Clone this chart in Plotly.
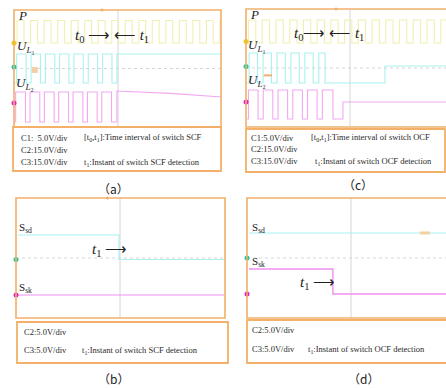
import plotly.graph_objects as go

W, H = 446, 389
SERIF = "Liberation Serif, Times New Roman, serif"
CJK = "Noto Sans CJK SC, sans-serif"

# ---------------- data (time in divisions, level in divisions) ----------------
# (a) switch SCF
A_P_RISE = [0.15, 0.80, 1.45, 2.10, 2.75, 3.40, 4.05, 4.70, 5.35, 6.00, 6.65, 7.30, 7.95, 8.60, 9.25, 9.90]
A_P_FALL = [0.48, 1.13, 1.78, 2.43, 3.08, 3.73, 4.38, 5.03, 5.68, 6.33, 6.98, 7.63, 8.28, 8.93, 9.58]
A_P_HI, A_P_LO = 7.28, 5.74
A_U1_RISE = [0.13, 0.82, 1.51, 2.19, 2.88, 3.57, 4.26, 4.95]
A_U1_FALL = [0.58, 1.27, 1.96, 2.64, 3.33, 4.02, 4.71]
A_U1_HI, A_U1_LO = 4.99, 3.01
A_U2_RISE = [0.08, 0.77, 1.46, 2.15, 2.84, 3.53, 4.22]
A_U2_FALL = [0.55, 1.24, 1.93, 2.62, 3.31, 4.00, 4.69]
A_U2_HI, A_U2_LO = 2.39, 0.34
A_U2_TAIL_T = [4.69, 4.95, 4.95, 7.50, 10.0]
A_U2_TAIL_V = [0.34, 0.34, 2.46, 2.30, 2.05]

# (c) switch OCF
C_P_RISE = [0.12, 0.78, 1.44, 2.10, 2.76, 3.42, 4.08, 4.74, 5.40, 6.06, 6.72, 7.38, 8.04, 8.70, 9.36]
C_P_FALL = [0.47, 1.13, 1.79, 2.45, 3.11, 3.77, 4.43, 5.09, 5.75, 6.41, 7.07, 7.73, 8.39, 9.05]
C_P_HI, C_P_LO = 7.25, 5.69
C_U1_RISE = [0.15, 0.82, 1.49, 2.16, 2.83, 3.50]
C_U1_FALL = [0.55, 1.22, 1.89, 2.56, 3.23, 3.80]
C_U1_HI, C_U1_LO = 5.02, 2.98
C_U1_TAIL_T = [3.80, 6.68, 6.68, 9.62]
C_U1_TAIL_V = [2.98, 2.98, 4.14, 4.14]
C_U2_RISE = [0.12, 0.83, 1.54, 2.25, 2.96, 3.67]
C_U2_FALL = [0.58, 1.29, 2.00, 2.71, 3.42, 4.18]
C_U2_HI, C_U2_LO = 2.51, 0.54
C_U2_TAIL_T = [4.18, 4.66, 4.66, 9.62]
C_U2_TAIL_V = [0.54, 0.54, 1.69, 1.69]

# (b) SCF detection signals
B_SSD_T = [0.08, 4.95, 4.95, 10.0]
B_SSD_V = [5.53, 5.53, 3.90, 3.90]
B_SSK_T = [0.08, 10.0]
B_SSK_V = [1.53, 1.53]

# (d) OCF detection signals
D_SSD_T = [0.10, 9.6]
D_SSD_V = [5.67, 5.67]
D_SSK_T = [0.10, 4.13, 4.13, 9.6]
D_SSK_V = [3.27, 3.27, 1.60, 1.60]

# channel ground markers (level in divisions)
A_MARK = [5.74, 4.10, 1.64]
C_MARK = [5.80, 4.10, 1.69]
B_MARK = [3.90, 1.53]
D_MARK = [4.00, 1.60]

# ---------------- styling ----------------
YEL, CYA, MAG = "#f0f0b0", "#aaf0f0", "#f2a8f2"
ORG = "#f2b068"
GRID = "#d6d6d6"
TXT = "#2a2a2a"


def fx(px):
    return px / W


def fy(py):
    return 1 - py / H


# panel geometry: left px, top px, bottom px
PAN = {
    "a": dict(ax="", x0=14, y0=10, y1=127),
    "c": dict(ax="2", x0=246, y0=9, y1=127),
    "b": dict(ax="3", x0=16, y0=198, y1=318),
    "d": dict(ax="4", x0=247, y0=198, y1=318),
}
PPD = 20.8

fig = go.Figure()


def square(rises, falls, hi, lo, start, end, tail_t=None, tail_v=None):
    ev = sorted([(t, hi) for t in rises] + [(t, lo) for t in falls])
    xs, ys = [start], [lo]
    for t, v in ev:
        xs += [t, t]
        ys += [ys[-1], v]
    if tail_t:
        xs += tail_t
        ys += tail_v
    else:
        xs.append(end)
        ys.append(ys[-1])
    return xs, ys


def line(p, xs, ys, color, width=1.1):
    a = PAN[p]["ax"]
    fig.add_trace(go.Scatter(x=xs, y=ys, mode="lines", line=dict(color=color, width=width),
                             xaxis="x" + a, yaxis="y" + a, hoverinfo="skip", showlegend=False))


def marks(p, levels, colors):
    a = PAN[p]["ax"]
    fig.add_trace(go.Scatter(x=[0] * len(levels), y=levels, mode="markers",
                             marker=dict(color=colors, size=5), cliponaxis=False,
                             xaxis="x" + a, yaxis="y" + a, hoverinfo="skip", showlegend=False))


# (a)
line("a", *square(A_P_RISE, A_P_FALL, A_P_HI, A_P_LO, 0.05, 10.0), YEL)
line("a", *square(A_U1_RISE, A_U1_FALL, A_U1_HI, A_U1_LO, 0.05, 10.0), CYA)
line("a", *square(A_U2_RISE, A_U2_FALL, A_U2_HI, A_U2_LO, 0.05, 10.0, A_U2_TAIL_T, A_U2_TAIL_V), MAG)
marks("a", A_MARK, ["#f0cc10", "#20c8a8", "#e020c8"])
# (c)
line("c", *square(C_P_RISE, C_P_FALL, C_P_HI, C_P_LO, 0.05, 9.62), YEL)
line("c", *square(C_U1_RISE, C_U1_FALL, C_U1_HI, C_U1_LO, 0.05, 9.62, C_U1_TAIL_T, C_U1_TAIL_V), CYA)
line("c", *square(C_U2_RISE, C_U2_FALL, C_U2_HI, C_U2_LO, 0.05, 9.62, C_U2_TAIL_T, C_U2_TAIL_V), MAG)
marks("c", C_MARK, ["#f0cc10", "#20c8a8", "#e020c8"])
# (b)
line("b", B_SSD_T, B_SSD_V, CYA)
line("b", B_SSK_T, B_SSK_V, "#f090f0")
marks("b", B_MARK, ["#20c8a8", "#e020c8"])
# (d)
line("d", D_SSD_T, D_SSD_V, CYA)
line("d", D_SSK_T, D_SSK_V, "#f090f0", 1.4)
marks("d", D_MARK, ["#20c8a8", "#e020c8"])

layout = dict(width=W, height=H, margin=dict(l=0, r=0, t=0, b=0),
              paper_bgcolor="white", plot_bgcolor="white", showlegend=False)
for p, g in PAN.items():
    a = g["ax"]
    x1 = min(g["x0"] + 10 * PPD, W)
    layout["xaxis" + a] = dict(domain=[fx(g["x0"]), fx(x1)], range=[0, (x1 - g["x0"]) / PPD],
                               visible=False, fixedrange=True, anchor="y" + a)
    layout["yaxis" + a] = dict(domain=[fy(g["y1"]), fy(g["y0"])], range=[0, 8],
                               visible=False, fixedrange=True, anchor="x" + a)
fig.update_layout(**layout)

shapes = []
# centre graticule
for p, g in PAN.items():
    a = g["ax"]
    shapes.append(dict(type="line", xref="x" + a, yref="y" + a + " domain", x0=5, x1=5, y0=0, y1=1,
                       line=dict(color=GRID, width=1), layer="below"))
    shapes.append(dict(type="line", xref="x" + a + " domain", yref="y" + a, x0=0, x1=1, y0=4, y1=4,
                       line=dict(color=GRID, width=1, dash="dot"), layer="below"))


def rect(x0, y0, x1, y1, w=1.6):
    shapes.append(dict(type="rect", xref="paper", yref="paper", x0=fx(x0), x1=fx(x1),
                       y0=fy(y1), y1=fy(y0), line=dict(color=ORG, width=w)))


# scope frames
rect(14, 10, 221, 127)
rect(246, 9, 452, 127)
rect(16, 198, 225, 318)
rect(247, 198, 452, 318)
# info boxes
rect(13, 127, 221, 171, 1.8)
rect(246, 129, 445, 172, 1.8)
rect(17, 322, 228, 363, 1.8)
rect(247, 320, 452, 363, 1.8)
fig.update_layout(shapes=shapes)

# small trigger markers (orange)
fig.add_trace(go.Scatter(x=[4.23], y=[8], mode="markers", marker=dict(color=ORG, size=3), cliponaxis=False,
                         xaxis="x", yaxis="y", hoverinfo="skip"))
fig.add_trace(go.Scatter(x=[1.0], y=[3.9], mode="markers", marker=dict(color="#f4d0a8", size=6, symbol="square"),
                         xaxis="x", yaxis="y", hoverinfo="skip"))
fig.add_trace(go.Scatter(x=[4.33], y=[8], mode="markers", marker=dict(color=ORG, size=3), cliponaxis=False,
                         xaxis="x2", yaxis="y2", hoverinfo="skip"))
fig.add_trace(go.Scatter(x=[1.05], y=[3.5], mode="markers", marker=dict(color="#f0b070", size=6, symbol="line-ew-open",
                         line=dict(color="#f0b070", width=2)), xaxis="x2", yaxis="y2", hoverinfo="skip"))
fig.add_trace(go.Scatter(x=[4.4], y=[8], mode="markers", marker=dict(color=ORG, size=3), cliponaxis=False,
                         xaxis="x3", yaxis="y3", hoverinfo="skip"))
fig.add_trace(go.Scatter(x=[8.56], y=[5.67], mode="markers", marker=dict(color="#f2d0a0", size=7, symbol="line-ew-open",
                         line=dict(color="#f2d0a0", width=3)), xaxis="x4", yaxis="y4", hoverinfo="skip"))


def txt(s, x, y, size=9, anchor="left", font=SERIF, color=TXT):
    fig.add_annotation(text=s, x=fx(x), y=fy(y), xref="paper", yref="paper", xanchor=anchor,
                       yanchor="middle", showarrow=False, font=dict(family=font, size=size, color=color))


# channel labels
txt("<i>P</i>", 16, 15, 13, color="#222")
txt("<i>U</i><sub><i>L</i>₁</sub>", 15, 47, 13, color="#222")
txt("<i>U</i><sub><i>L</i>₂</sub>", 14, 83, 13, color="#222")
txt("<i>t</i><sub>0</sub> ⟶ ⟵ <i>t</i><sub>1</sub>", 112, 36, 15, anchor="center", color="#222")

txt("<i>P</i>", 248, 14, 13, color="#222")
txt("<i>U</i><sub><i>L</i>₁</sub>", 246, 45, 13, color="#222")
txt("<i>U</i><sub><i>L</i>₂</sub>", 246, 81, 13, color="#222")
txt("<i>t</i><sub>0</sub>⟶ ⟵ <i>t</i><sub>1</sub>", 329, 34, 15, anchor="center", color="#222")

txt("S<sub>sd</sub>", 17, 228, 11, color="#222")
txt("S<sub>sk</sub>", 17, 288, 11, color="#222")
txt("<i>t</i><sub>1</sub> ⟶", 109, 250, 15, anchor="center", color="#222")

txt("S<sub>sd</sub>", 250, 228, 11, color="#222")
txt("S<sub>sk</sub>", 250, 262, 11, color="#222")
txt("<i>t</i><sub>1</sub> ⟶", 317, 283, 15, anchor="center", color="#222")

# info boxes
txt("C1:  5.0V/div", 19, 138, 8.5)
txt("[t<sub>0</sub>,t<sub>1</sub>]:Time interval of switch SCF", 82, 138, 8.5)
txt("C2:15.0V/div", 19, 150, 8.5)
txt("C3:15.0V/div", 19, 162, 8.5)
txt("t<sub>1</sub>:Instant of switch SCF detection", 82, 162, 8.5)

txt("C1:5.0V/div", 249, 138, 8.5)
txt("[t<sub>0</sub>,t<sub>1</sub>]:Time interval of switch OCF", 309, 138, 8.5)
txt("C2:15.0V/div", 249, 149, 8.5)
txt("C3:15.0V/div", 249, 161, 8.5)
txt("t<sub>1</sub>:Instant of switch OCF detection", 313, 161, 8.5)

txt("C2:5.0V/div", 22, 332, 8.5)
txt("C3:5.0V/div", 22, 350, 8.5)
txt("t<sub>1</sub>:Instant of switch SCF detection", 80, 350, 8.5)

txt("C2:5.0V/div", 250, 330, 8.5)
txt("C3:5.0V/div", 250, 349, 8.5)
txt("t<sub>1</sub>:Instant of switch OCF detection", 306, 349, 8.5)

# sub-figure labels
txt("（a）", 113, 188, 12, anchor="center", font=CJK, color="#222")
txt("（c）", 358, 185, 12, anchor="center", font=CJK, color="#222")
txt("（b）", 113, 378, 12, anchor="center", font=CJK, color="#222")
txt("（d）", 363, 378, 12, anchor="center", font=CJK, color="#222")

fig.write_html("out.html", config=dict(displayModeBar=False, staticPlot=True),
               post_script="document.body.style.margin='0';document.body.style.overflow='hidden';")
